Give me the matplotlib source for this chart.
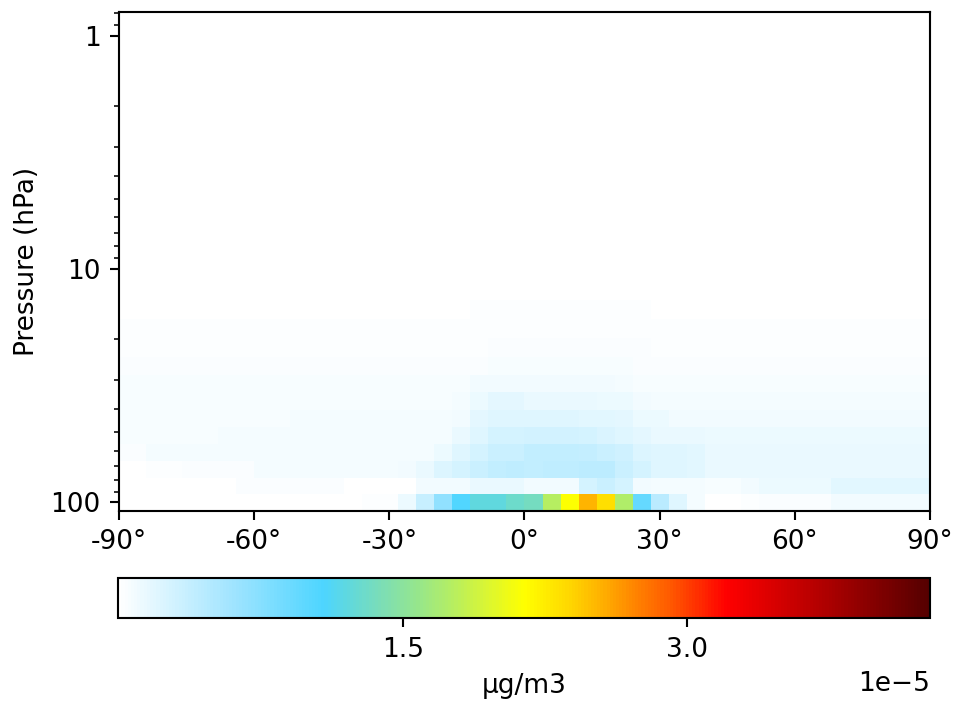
import matplotlib
matplotlib.use("Agg")
import numpy as np
import matplotlib.pyplot as plt
from matplotlib.colors import LinearSegmentedColormap
from matplotlib.ticker import NullFormatter

# grid: 4 deg latitude cells (half cells at the poles), GEOS 72-level pressure edges (hPa)
lat_edges = [-90] + list(range(-88, 89, 4)) + [90]
pres_edges = [108.663, 92.36572, 78.51231, 66.60341, 56.38791, 47.64391, 40.17541,
              33.81001, 28.36781, 23.73041, 19.7916, 16.4571, 13.6434, 11.2769,
              9.292942, 7.619842, 6.216801, 5.046801, 4.076571, 3.276431, 2.620211,
              2.08497, 1.65079, 1.30051, 1.01944, 0.7951341]

# concentration per level (bottom level first), units of 1e-5 ug/m3
lev00 = ([0.0] * 14 + [0.02, 0.03, 0.13, 0.36, 0.69, 1.07, 1.22, 1.22, 1.30, 1.35, 1.76,
         2.14, 2.53, 2.33, 1.73, 0.94, 0.45, 0.21, 0.08] + [0.0, 0.0, 0.02] + [0.05] * 4 + [0.09] * 6)
lev01 = ([0.0] * 4 + [0.01] * 3 + [0.05] * 6 + [0.01] * 4 + [0.09] * 3 + [0.14] * 3
         + [0.10, 0.09, 0.10, 0.27, 0.34, 0.28, 0.10] + [0.08] * 3 + [0.06] * 2 + [0.09]
         + [0.13] * 4 + [0.19] * 6)
lev02 = ([0.0] * 2 + [0.02] * 2 + [0.04] * 2 + [0.05] * 2 + [0.08] * 8
         + [0.10, 0.15, 0.23, 0.28, 0.35, 0.40, 0.41]
         + [0.40, 0.41, 0.41, 0.42, 0.42, 0.35, 0.28, 0.21, 0.21, 0.19] + [0.15] * 13)
lev03 = ([0.04] * 2 + [0.08] * 16 + [0.13, 0.21, 0.28, 0.35, 0.35]
         + [0.39, 0.39, 0.39, 0.38, 0.35, 0.31, 0.23, 0.21, 0.21, 0.19] + [0.15] * 13)
lev04 = ([0.06] * 6 + [0.08] * 13 + [0.14, 0.21, 0.27, 0.27]
         + [0.30, 0.30, 0.30, 0.28, 0.25, 0.21, 0.17, 0.14, 0.14, 0.14] + [0.13] * 13)
lev05 = ([0.06] * 10 + [0.07] * 9 + [0.09, 0.18, 0.21, 0.21]
         + [0.21, 0.21, 0.21, 0.19, 0.19, 0.17, 0.13, 0.13] + [0.10] * 15)
lev06 = ([0.06] * 19 + [0.07, 0.13, 0.17, 0.17]
         + [0.15, 0.15, 0.15, 0.14, 0.13, 0.13, 0.09] + [0.08] * 16)
lev07 = [0.06] * 20 + [0.09] * 3 + [0.10] * 5 + [0.07] + [0.06] * 17
lev08 = [0.05] * 21 + [0.06] * 8 + [0.04] * 17
lev09 = [0.03] * 21 + [0.04] * 9 + [0.025] * 16
lev10 = [0.025] * 21 + [0.03] * 9 + [0.02] * 16
lev11 = [0.008] * 20 + [0.02] * 10 + [0.006] * 13 + [0.015] * 3
lev12 = [0.005] * 20 + [0.008] * 10 + [0.005] * 16
lev13 = [0.004] * 46
lev14 = [0.003] * 10 + [0.005] * 9 + [0.003] * 27
upper_levels = [[0.001] * 46 for _ in range(10)]

conc = np.array([lev00, lev01, lev02, lev03, lev04, lev05, lev06, lev07, lev08,
                 lev09, lev10, lev11, lev12, lev13, lev14] + upper_levels) * 1e-5

vmin, vmax = 0.0, 4.281e-5
cbar_ticks = [1.5e-5, 3.0e-5]
xticks = [-90, -60, -30, 0, 30, 60, 90]

cmap = LinearSegmentedColormap.from_list("whblgrylrd", [
    (0.0, (1.0, 1.0, 1.0)),
    (0.14, (160/255, 228/255, 1.0)),
    (0.252, (77/255, 213/255, 1.0)),
    (0.289, (100/255, 217/255, 215/255)),
    (0.326, (125/255, 222/255, 180/255)),
    (0.368, (150/255, 230/255, 140/255)),
    (0.409, (180/255, 238/255, 100/255)),
    (0.45, (215/255, 245/255, 55/255)),
    (0.5, (1.0, 1.0, 0.0)),
    (0.556, (1.0, 215/255, 0.0)),
    (0.597, (1.0, 175/255, 0.0)),
    (0.639, (1.0, 130/255, 0.0)),
    (0.68, (1.0, 90/255, 0.0)),
    (0.75, (1.0, 0.0, 0.0)),
    (0.864, (180/255, 0.0, 0.0)),
    (1.0, (85/255, 0.0, 0.0)),
])

fig = plt.figure(figsize=(955 / 190, 706 / 190), dpi=190)
ax = fig.add_axes([0.1246, 0.2766, 0.8492, 0.706])
mesh = ax.pcolormesh(lat_edges, pres_edges, conc, cmap=cmap, vmin=vmin, vmax=vmax)
ax.set_yscale("log")
ax.set_ylim(pres_edges[0], pres_edges[-1])
ax.set_xlim(-90, 90)
ax.set_yticks([1, 10, 100])
ax.set_yticklabels(["1", "10", "100"])
ax.yaxis.set_minor_formatter(NullFormatter())
ax.set_xticks(xticks)
ax.set_xticklabels([f"{t}°" for t in xticks])
ax.set_ylabel("Pressure (hPa)")

cax = fig.add_axes([118.3 / 955, (706 - 618.3) / 706, 811.7 / 955, 40 / 706])
cb = fig.colorbar(mesh, cax=cax, orientation="horizontal", ticks=cbar_ticks)
cb.set_label("µg/m3")

fig.savefig("out.png", dpi=190)
